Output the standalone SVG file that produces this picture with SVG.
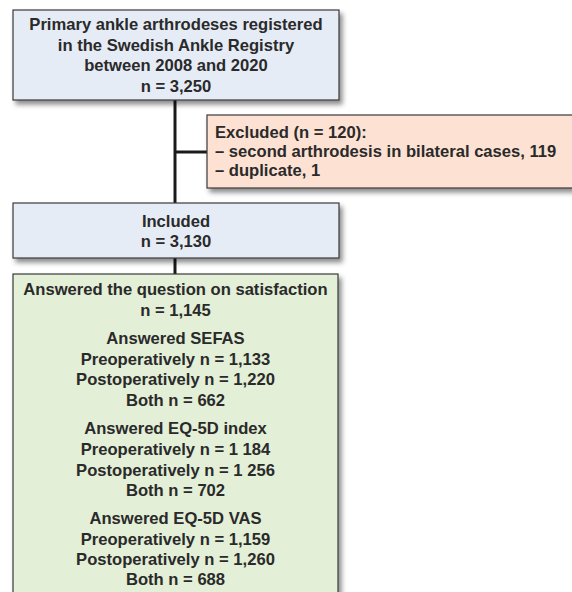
<svg xmlns="http://www.w3.org/2000/svg" width="572" height="592" viewBox="0 0 572 592">
<defs>
<filter id="sh" x="-10%" y="-10%" width="130%" height="140%">
<feDropShadow dx="3" dy="4" stdDeviation="2.5" flood-color="#000" flood-opacity="0.45"/>
</filter>
<style>
.box{stroke:#3a3a3a;stroke-width:1.2;filter:url(#sh)}
.blue{fill:#e6ecf6}
.peach{fill:#fde2d4}
.green{fill:#e3efd7}
text{font-family:"Liberation Sans",Arial,sans-serif;font-size:16.6px;font-weight:bold;fill:#2a2a2a}
.c{text-anchor:middle}
.conn{stroke:#1a1a1a;stroke-width:3;fill:none}
</style>
</defs>
<rect width="572" height="592" fill="#fff"/>
<g id="connectors">
<line class="conn" x1="175" y1="100" x2="175" y2="203"/>
<line class="conn" x1="175" y1="152" x2="207" y2="152"/>
<line class="conn" x1="175" y1="258" x2="175" y2="274"/>
</g>
<g id="registered">
<rect class="box blue" x="13" y="10" width="326" height="90"/>
<text class="c" x="176" y="30">Primary ankle arthrodeses registered</text>
<text class="c" x="176" y="50.5">in the Swedish Ankle Registry</text>
<text class="c" x="176" y="71">between 2008 and 2020</text>
<text class="c" x="176" y="92">n = 3,250</text>
</g>
<g id="excluded">
<rect class="box peach" x="207" y="115" width="380" height="73"/>
<text x="215" y="138">Excluded (n = 120):</text>
<text x="215" y="157">– second arthrodesis in bilateral cases, 119</text>
<text x="215" y="176">– duplicate, 1</text>
</g>
<g id="included">
<rect class="box blue" x="13" y="203" width="326" height="55"/>
<text class="c" x="176" y="226.5">Included</text>
<text class="c" x="176" y="246.5">n = 3,130</text>
</g>
<g id="answered">
<rect class="box green" x="13" y="274" width="325" height="330"/>
<text class="c" x="175.5" y="295">Answered the question on satisfaction</text>
<text class="c" x="175.5" y="315.5">n = 1,145</text>
<text class="c" x="175.5" y="344">Answered SEFAS</text>
<text class="c" x="175.5" y="364.5">Preoperatively n = 1,133</text>
<text class="c" x="175.5" y="385">Postoperatively n = 1,220</text>
<text class="c" x="175.5" y="405.5">Both n = 662</text>
<text class="c" x="175.5" y="434">Answered EQ-5D index</text>
<text class="c" x="175.5" y="455">Preoperatively n = 1 184</text>
<text class="c" x="175.5" y="475.5">Postoperatively n = 1 256</text>
<text class="c" x="175.5" y="496">Both n = 702</text>
<text class="c" x="175.5" y="524">Answered EQ-5D VAS</text>
<text class="c" x="175.5" y="544.5">Preoperatively n = 1,159</text>
<text class="c" x="175.5" y="565">Postoperatively n = 1,260</text>
<text class="c" x="175.5" y="585">Both n = 688</text>
</g>
</svg>
